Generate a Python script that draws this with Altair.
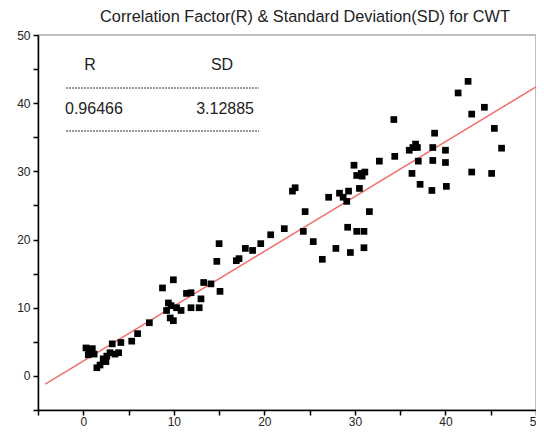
import altair as alt
import pandas as pd

# scatter data
xs = [0.3, 0.65, 1.0, 0.55, 1.2, 1.5, 1.85, 2.2, 2.5, 2.6, 2.95, 3.2, 3.5, 3.9, 4.15, 5.35, 6.0, 7.3,
      8.75, 9.95, 9.4, 9.2, 9.7, 9.6, 9.95, 10.3, 10.8, 11.4, 11.9, 11.9, 12.8, 13.0, 13.3, 14.1, 15.1,
      14.75, 15.0, 16.9, 17.2, 17.9, 18.7, 19.6, 20.7, 22.2, 23.1, 23.4, 24.5, 24.3, 25.4, 26.4, 27.9,
      27.1, 28.3, 28.7, 29.1, 29.3, 29.9, 30.2, 30.7, 31.1, 30.8, 30.5, 31.6, 29.2, 30.2, 31.0, 29.5,
      31.0, 32.7, 34.4, 34.3, 36.0, 36.4, 36.7, 36.9, 36.3, 37.0, 37.2, 38.5, 38.6, 38.6, 38.8, 40.0,
      40.0, 40.1, 41.4, 42.5, 42.9, 42.9, 44.3, 45.4, 46.2, 45.1]
ys = [4.1, 3.7, 4.0, 3.1, 3.2, 1.2, 1.6, 2.5, 2.1, 2.9, 3.4, 4.7, 3.2, 3.4, 4.9, 5.1, 6.2, 7.8,
      12.9, 14.1, 10.7, 9.6, 10.3, 8.5, 8.1, 10.0, 9.6, 12.1, 12.2, 10.0, 10.0, 11.3, 13.7, 13.5, 12.4,
      16.8, 19.4, 16.9, 17.2, 18.7, 18.4, 19.4, 20.7, 21.6, 27.1, 27.6, 24.1, 21.2, 19.7, 17.1, 18.7,
      26.2, 26.8, 26.2, 25.6, 27.1, 30.9, 29.4, 29.7, 29.9, 29.3, 27.5, 24.1, 21.8, 21.2, 21.2, 18.1,
      18.8, 31.5, 32.2, 37.6, 33.1, 33.5, 34.0, 33.5, 29.7, 31.5, 28.1, 27.2, 31.6, 33.5, 35.6, 33.1,
      31.3, 27.8, 41.5, 43.2, 38.4, 29.9, 39.4, 36.3, 33.4, 29.7]

# fitted line end points
fit_x = [-4.2, 50.0]
fit_y = [-1.2, 42.4]

stat_names = ["R", "SD"]
stat_values = ["0.96466", "3.12885"]

title_text = "Correlation Factor(R) & Standard Deviation(SD) for CWT"

df = pd.DataFrame({"x": xs, "y": ys})
fit_df = pd.DataFrame({"x": fit_x, "y": fit_y})

FONT = "Liberation Sans"
ticks = list(range(-5, 51, 5))
lab = "datum.value % 10 == 0 ? datum.label : ''"

xscale = alt.Scale(domain=[-5, 50], nice=False, zero=False)
yscale = alt.Scale(domain=[-5, 50], nice=False, zero=False)

xaxis = alt.Axis(values=ticks, labelExpr=lab, grid=False, domainColor="black", domainWidth=1.5,
                 tickColor="black", tickWidth=1.5, tickSize=5, labelFontSize=12, labelFont=FONT,
                 labelColor="#222", title=None, labelPadding=1, labelFlush=False, labelOverlap=False)
yaxis = alt.Axis(values=ticks, labelExpr=lab, grid=False, domainColor="black", domainWidth=1.5,
                 tickColor="black", tickWidth=1.5, tickSize=5, labelFontSize=12, labelFont=FONT,
                 labelColor="#222", title=None, labelPadding=3, labelFlush=False, labelOverlap=False)

points = alt.Chart(df).mark_square(size=45, color="black", opacity=1).encode(
    x=alt.X("x:Q", scale=xscale, axis=xaxis),
    y=alt.Y("y:Q", scale=yscale, axis=yaxis),
)

fit = alt.Chart(fit_df).mark_line(color="#f26d6d", strokeWidth=1.5, clip=True).encode(
    x=alt.X("x:Q", scale=xscale, axis=xaxis),
    y=alt.Y("y:Q", scale=yscale, axis=yaxis),
)

hdr_df = pd.DataFrame({"t": stat_names, "px": [52, 184]})
val_df = pd.DataFrame({"t": stat_values, "px": [27, 216]})

hdr = alt.Chart(hdr_df).mark_text(font=FONT, fontSize=16, color="#222", baseline="middle", align="center").encode(
    x=alt.X("px:Q", scale=None), y=alt.value(30), text="t:N")
val_l = alt.Chart(val_df.iloc[[0]]).mark_text(font=FONT, fontSize=16, color="#222", baseline="middle", align="left").encode(
    x=alt.X("px:Q", scale=None), y=alt.value(74), text="t:N")
val_r = alt.Chart(val_df.iloc[[1]]).mark_text(font=FONT, fontSize=16, color="#222", baseline="middle", align="right").encode(
    x=alt.X("px:Q", scale=None), y=alt.value(74), text="t:N")

dash1 = alt.Chart(df.iloc[[0]]).mark_rule(color="#333", strokeWidth=1, strokeDash=[2, 1]).encode(
    x=alt.value(28), x2=alt.value(221), y=alt.value(53))
dash2 = alt.Chart(df.iloc[[0]]).mark_rule(color="#333", strokeWidth=1, strokeDash=[2, 1]).encode(
    x=alt.value(28), x2=alt.value(221), y=alt.value(96))

chart = alt.layer(fit, points, hdr, val_l, val_r, dash1, dash2).properties(
    width=498, height=375,
    title=alt.TitleParams(text=title_text, font=FONT, fontSize=16.3, fontWeight="normal", color="#222",
                          anchor="middle", dx=18, dy=14, offset=5, baseline="alphabetic"),
    padding={"left": 30, "top": 27, "right": 0, "bottom": 18},
    autosize=alt.AutoSizeParams(type="none"),
).configure_view(stroke="#aaaaaa", strokeWidth=1.5)

chart.save("out.html", embed_options={"renderer": "svg", "actions": False})
